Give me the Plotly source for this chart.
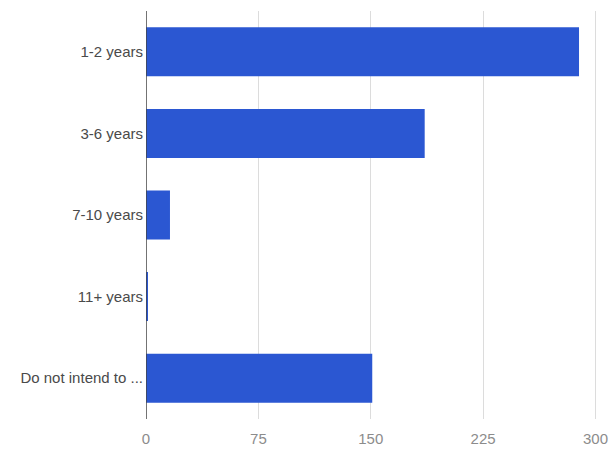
import plotly.graph_objects as go

# Survey responses: expected time frame
categories = ["1-2 years", "3-6 years", "7-10 years", "11+ years", "Do not intend to ..."]
counts = [289, 186, 16, 1, 151]
x_ticks = [0, 75, 150, 225, 300]

fig = go.Figure(
    go.Bar(
        x=counts,
        y=categories,
        orientation="h",
        marker=dict(color="#2b57d2", line=dict(width=0)),
        width=0.6,
    )
)

fig.update_layout(
    width=610,
    height=452,
    margin=dict(l=146, r=13, t=11, b=33),
    paper_bgcolor="white",
    plot_bgcolor="white",
    showlegend=False,
    font=dict(family="Liberation Sans, Arial, sans-serif"),
    bargap=0.4,
)

fig.update_xaxes(
    range=[0, 301],
    tickvals=x_ticks,
    ticktext=[str(v) for v in x_ticks],
    showgrid=True,
    gridcolor="#dcdcdc",
    gridwidth=1,
    zeroline=False,
    showline=False,
    ticks="",
    automargin=False,
    ticklabeloverflow="allow",
    ticklabelstandoff=9,
    tickfont=dict(size=15, color="#8c8c8c"),
)

fig.update_yaxes(
    categoryorder="array",
    categoryarray=categories[::-1],
    showgrid=False,
    zeroline=False,
    showline=False,
    ticks="",
    automargin=False,
    ticklabelstandoff=2,
    tickfont=dict(size=15, color="#4a4a4a"),
)

# Dark baseline at zero
fig.add_shape(
    type="line", xref="x", yref="paper",
    x0=0, x1=0, y0=0, y1=1,
    line=dict(color="#444444", width=1.5),
)

fig.write_html("out.html")
